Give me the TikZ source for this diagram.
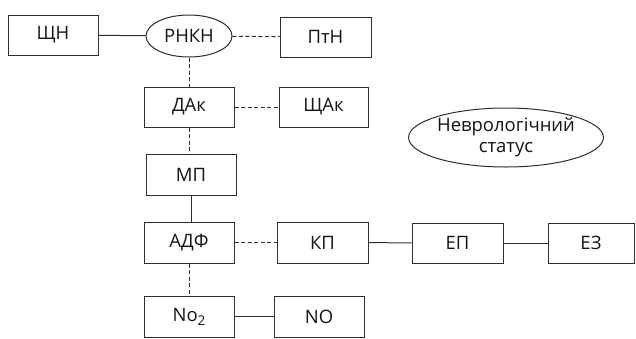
\documentclass[tikz,border=0pt]{standalone}
\usepackage{fontspec}
\setmainfont{Open Sans}
\usetikzlibrary{shapes.geometric}
\begin{document}
\begin{tikzpicture}[x=1pt,y=-1pt,
  every node/.style={font=\fontsize{18.5}{21}\selectfont, text=black!92},
  bx/.style={draw=black!82, line width=1pt, rectangle, inner sep=0pt},
  el/.style={draw=black!82, line width=1pt, ellipse, inner sep=0pt},
  sl/.style={draw=black!82, line width=1pt},
  dl/.style={draw=black!82, line width=1pt, dash pattern=on 4pt off 2.5pt}]
\useasboundingbox (0,0) rectangle (636,338);
\node[bx, minimum width=90pt, minimum height=40pt] (shn) at (53,35) {ЩН};
\node[el, minimum width=86pt, minimum height=42pt] (rnkn) at (189,36) {РНКН};
\node[bx, minimum width=91pt, minimum height=40pt] (ptn) at (325.5,37) {ПтН};
\node[bx, minimum width=90pt, minimum height=40pt] (dak) at (189,107) {ДАк};
\node[bx, minimum width=89pt, minimum height=40pt] (shak) at (323.5,107) {ЩАк};
\node[bx, minimum width=90pt, minimum height=41pt] (mp) at (191,174.5) {МП};
\node[bx, minimum width=90pt, minimum height=41pt] (adf) at (189,242.5) {АДФ};
\node[bx, minimum width=91pt, minimum height=41pt] (kp) at (322.5,242.5) {КП};
\node[bx, minimum width=91pt, minimum height=40pt] (ep) at (457.5,243) {ЕП};
\node[bx, minimum width=86pt, minimum height=40pt] (ez) at (591,243) {ЕЗ};
\node[bx, minimum width=90pt, minimum height=41pt] (no2) at (189,316.5) {No\raisebox{-4pt}{\fontsize{13.5}{14}\selectfont 2}};
\node[bx, minimum width=90pt, minimum height=41pt] (no) at (319,316.5) {NO};
\node[el, minimum width=192pt, minimum height=59pt, align=center] (nev) at (506,137.5) {Неврологічний\\статус};
\draw[sl] (shn) -- (rnkn);
\draw[dl] (rnkn) -- (ptn);
\draw[dl] (rnkn.south) -- (rnkn.south |- dak.north);
\draw[dl] (dak) -- (shak);
\draw[dl] (dak.south) -- (dak.south |- mp.north);
\draw[sl] (mp.south) -- (mp.south |- adf.north);
\draw[dl] (adf) -- (kp);
\draw[sl] (kp) -- (ep);
\draw[sl] (ep) -- (ez);
\draw[dl] (adf.south) -- (adf.south |- no2.north);
\draw[sl] (no2) -- (no);
\end{tikzpicture}
\end{document}
